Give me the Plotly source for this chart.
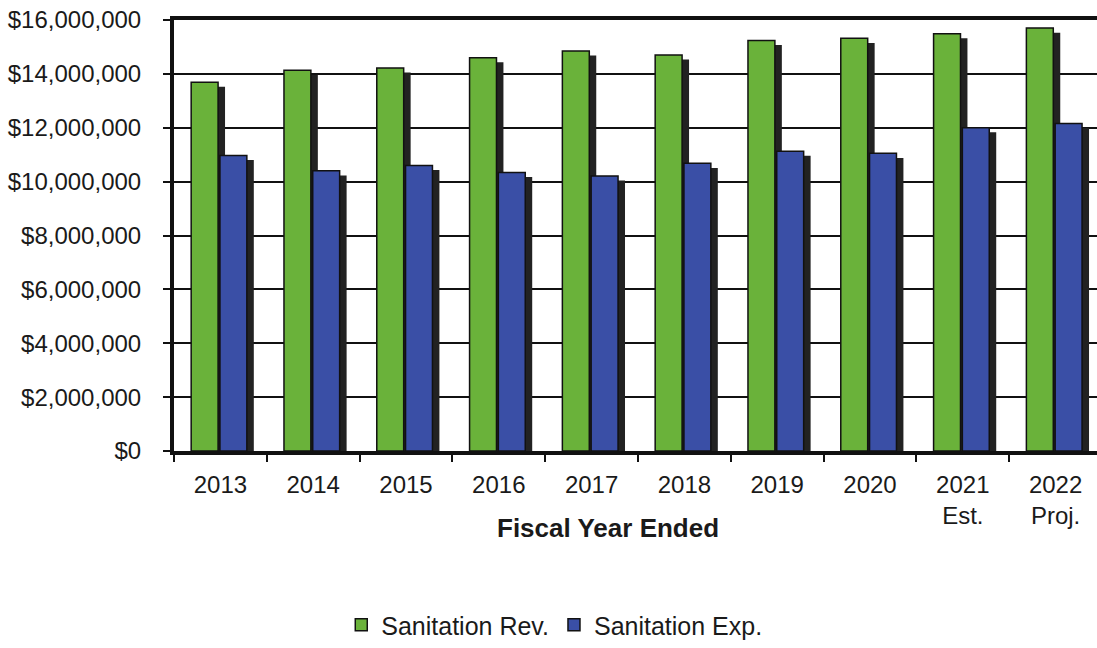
import plotly.graph_objects as go

# Sanitation fund revenue vs. expense by fiscal year
categories = ["2013", "2014", "2015", "2016", "2017", "2018", "2019", "2020",
              "2021<br>Est.", "2022<br>Proj."]
revenue = [13690000, 14130000, 14220000, 14600000, 14850000, 14700000,
           15240000, 15320000, 15490000, 15700000]
expense = [10970000, 10400000, 10600000, 10340000, 10210000, 10680000,
           11130000, 11050000, 12000000, 12160000]

GREEN = "#6ab23a"
BLUE = "#3a4fa6"
SHADOW = "#222222"
DEPTH = 170000  # vertical drop of the side face, in dollars

FONT = "Liberation Sans, Arial, sans-serif"

fig = go.Figure()


def add_series(name, values, color, offset, width):
    # dark side face drawn first, front face on top
    fig.add_trace(go.Bar(
        x=categories, y=[v - DEPTH for v in values],
        offset=offset + width - 0.02, width=0.095,
        marker=dict(color=SHADOW, line=dict(width=0)),
        showlegend=False, hoverinfo="skip",
    ))
    fig.add_trace(go.Bar(
        x=categories, y=values, name=name,
        offset=offset, width=width,
        marker=dict(color=color, line=dict(color="#111111", width=1.5)),
    ))


add_series("Sanitation Rev.", revenue, GREEN, -0.315, 0.29)
add_series("Sanitation Exp.", expense, BLUE, -0.005, 0.29)

fig.update_layout(
    width=1097, height=648,
    margin=dict(l=174, r=0, t=20, b=193),
    paper_bgcolor="white", plot_bgcolor="white",
    barmode="overlay",
    font=dict(family=FONT, size=24, color="#1a1a1a"),
    showlegend=True,
    legend=dict(
        orientation="h", x=0.412, xanchor="center", y=-0.405, yanchor="middle",
        font=dict(family=FONT, size=25, color="#1a1a1a"),
        itemwidth=30, tracegroupgap=0,
    ),
    xaxis=dict(
        type="category", range=[-0.5, 9.446],
        showline=True, linecolor="#111111", linewidth=4, mirror=True,
        ticks="outside", tickson="boundaries", ticklen=7, tickwidth=2,
        tickcolor="#111111", showgrid=False,
        tickfont=dict(family=FONT, size=24, color="#1a1a1a"),
        ticklabelstandoff=9,
    ),
    yaxis=dict(
        range=[0, 16000000], dtick=2000000, tickformat="$,.0f",
        showline=True, linecolor="#111111", linewidth=4,
        ticks="outside", ticklen=7, tickwidth=2, tickcolor="#111111",
        showgrid=True, gridcolor="#111111", gridwidth=1.6,
        zeroline=False,
        tickfont=dict(family=FONT, size=24, color="#1a1a1a"),
        ticklabelstandoff=17,
    ),
    annotations=[dict(
        text="<b>Fiscal Year Ended</b>", xref="paper", yref="paper",
        x=0.470, y=-0.178, xanchor="center", yanchor="middle",
        showarrow=False, font=dict(family=FONT, size=26, color="#1a1a1a"),
    )],
)

fig.write_html("out.html")
